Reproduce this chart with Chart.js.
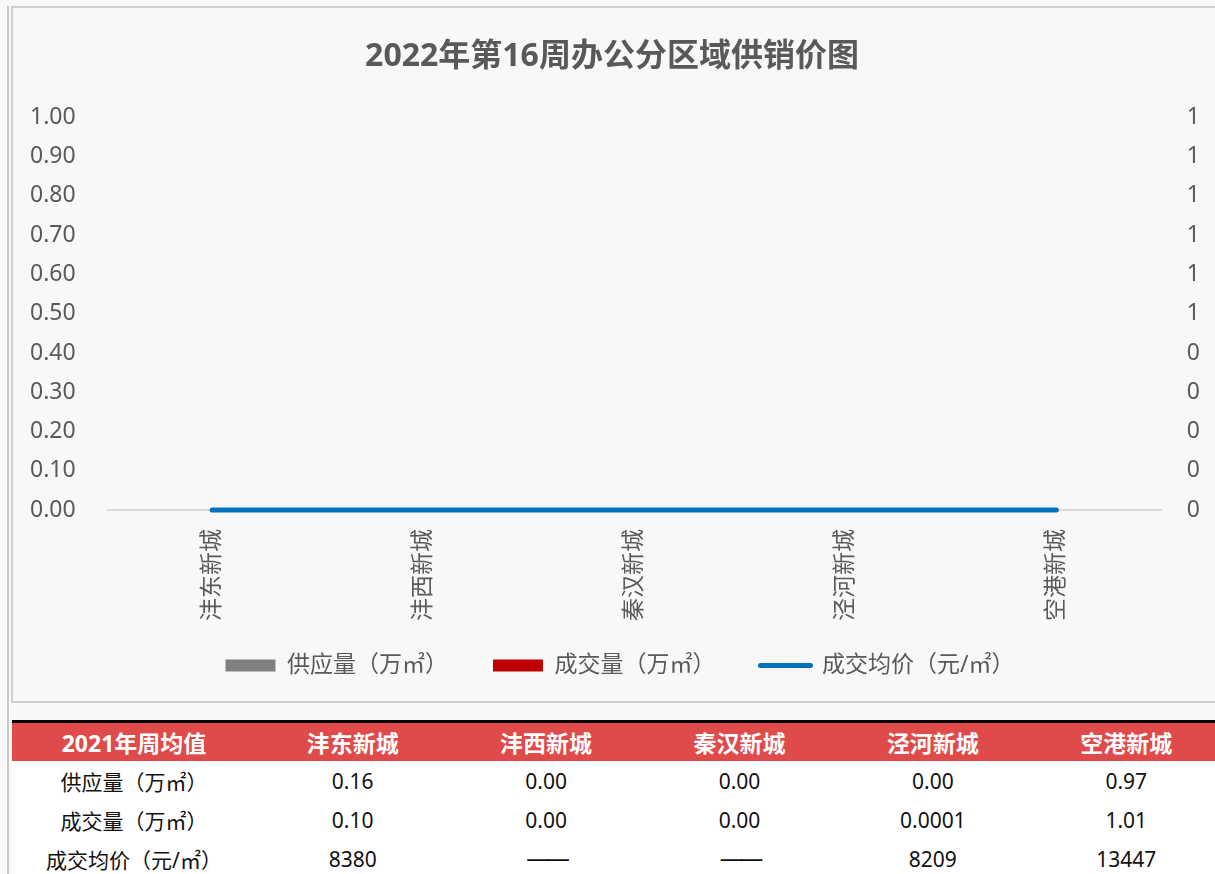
<!DOCTYPE html>
<html>
<head>
<meta charset="utf-8">
<script src="https://cdn.jsdelivr.net/npm/chart.js@4.4.1/dist/chart.umd.min.js"></script>
<style>
  html, body { margin: 0; padding: 0; }
  body {
    width: 1215px; height: 874px; overflow: hidden; position: relative;
    background: #f8f8f8;
    font-family: 'Noto Sans', 'Noto Sans CJK SC', sans-serif;
  }
  .side-line { position: absolute; left: 7px; top: 6px; width: 2px; height: 880px; background: #c8c8c8; }
  .chart-box {
    position: absolute; left: 11px; top: 6px; width: 1220px; height: 697px;
    border: 2px solid #cfcfcf; box-sizing: border-box; background: #f8f8f8;
  }
  .chart-box canvas { position: absolute; left: 0; top: 0; }
  table {
    position: absolute; left: 12px; top: 720px; width: 1211px;
    border-collapse: collapse; border-top: 3px solid #000; background: #fff;
    font-family: 'Noto Sans', 'Noto Sans CJK SC', sans-serif;
  }
  th { background: #df4a4a; color: #fff; font-size: 23px; font-weight: bold; height: 38px; padding: 0; }
  td { color: #111; font-size: 21px; height: 39px; padding: 0; text-align: center; }
  td.dash { font-family: 'DejaVu Sans', sans-serif; font-size: 24px; letter-spacing: -4px; }
  th:first-child, td:first-child { width: 244px; }
</style>
</head>
<body>
<div class="side-line"></div>
<div class="chart-box"><canvas id="chart" width="1203" height="694"></canvas></div>
<table id="avgTable"></table>
<script>
// chart data (all zero this week)
const districts = ['沣东新城', '沣西新城', '秦汉新城', '泾河新城', '空港新城'];
const supply = [0, 0, 0, 0, 0];      // 供应量（万㎡）
const deals = [0, 0, 0, 0, 0];       // 成交量（万㎡）
const avgPrice = [0, 0, 0, 0, 0];    // 成交均价（元/㎡）

// 2021 weekly averages shown in the table under the chart
const tableHead = '2021年周均值';
const rowNames = ['供应量（万㎡）', '成交量（万㎡）', '成交均价（元/㎡）'];
const avgSupply2021 = ['0.16', '0.00', '0.00', '0.00', '0.97'];
const avgDeals2021 = ['0.10', '0.00', '0.00', '0.0001', '1.01'];
const avgPrice2021 = ['8380', '——', '——', '8209', '13447'];

const textColor = '#595959';
const font = "'Noto Sans', 'Noto Sans CJK SC', sans-serif";
// extra room between legend entries (legend padding is shared with the vertical gap)
const legendGap = '\u3000\u2002';

function buildTable() {
  const table = document.getElementById('avgTable');
  let html = '<tr><th>' + tableHead + '</th>' + districts.map(d => '<th>' + d + '</th>').join('') + '</tr>';
  [avgSupply2021, avgDeals2021, avgPrice2021].forEach((row, i) => {
    html += '<tr><td>' + rowNames[i] + '</td>' +
      row.map(v => '<td' + (v === '——' ? ' class="dash"' : '') + '>' + v + '</td>').join('') + '</tr>';
  });
  table.innerHTML = html;
}

// nudge the legend a little to the right, like the original
const legendNudge = {
  id: 'legendNudge',
  afterLayout(chart) {
    if (!chart.legend) return;
    chart.legend.left += 8;
    chart.legend.right += 8;
  }
};

function drawChart() {
  const ctx = document.getElementById('chart');
  new Chart(ctx, {
    data: {
      labels: districts,
      datasets: [
        { type: 'bar', label: '供应量（万㎡）', data: supply, backgroundColor: '#808080', yAxisID: 'y', order: 2 },
        { type: 'bar', label: '成交量（万㎡）', data: deals, backgroundColor: '#c00000', yAxisID: 'y', order: 2 },
        {
          type: 'line', label: '成交均价（元/㎡）', data: avgPrice, borderColor: '#0070c0',
          backgroundColor: '#0070c0', borderWidth: 5, pointRadius: 0, borderCapStyle: 'round',
          clip: false, yAxisID: 'y1', order: 1
        }
      ]
    },
    plugins: [legendNudge],
    options: {
      responsive: false,
      animation: false,
      layout: { padding: { left: -14, right: -9, top: 0, bottom: 15 } },
      plugins: {
        title: {
          display: true,
          text: '2022年第16周办公分区域供销价图',
          color: textColor,
          font: { family: font, size: 32, weight: 'bold' },
          padding: { top: 30, bottom: 41 }
        },
        legend: {
          position: 'bottom',
          labels: {
            usePointStyle: true,
            pointStyleWidth: 50,
            boxHeight: 12,
            padding: 22,
            color: textColor,
            font: { family: font, size: 23 },
            generateLabels(chart) {
              const n = chart.data.datasets.length;
              return chart.data.datasets.map((ds, i) => ({
                text: ds.label + (i < n - 1 ? legendGap : ''),
                fillStyle: ds.backgroundColor,
                strokeStyle: ds.type === 'line' ? ds.borderColor : ds.backgroundColor,
                lineWidth: ds.type === 'line' ? 5 : 0,
                lineCap: 'round',
                pointStyle: ds.type === 'line' ? 'line' : 'rect',
                fontColor: textColor,
                hidden: false,
                datasetIndex: i
              }));
            }
          }
        },
        tooltip: { enabled: false }
      },
      scales: {
        x: {
          grid: { display: false },
          border: { display: false },
          ticks: {
            color: textColor, font: { family: font, size: 23 },
            minRotation: 90, maxRotation: 90, padding: 11
          }
        },
        y: {
          position: 'left',
          min: 0, max: 1,
          border: { display: false },
          grid: {
            drawTicks: false,
            color: c => (c.tick && c.tick.value === 0 ? '#d9d9d9' : 'rgba(0,0,0,0)'),
            lineWidth: 2
          },
          ticks: {
            stepSize: 0.1, padding: 31, color: textColor,
            font: { family: font, size: 23 },
            callback: v => Number(v).toFixed(2)
          }
        },
        y1: {
          position: 'right',
          min: 0, max: 1,
          border: { display: false },
          grid: { display: false, drawTicks: false },
          ticks: {
            stepSize: 0.1, padding: 25, color: textColor,
            font: { family: font, size: 23 },
            callback: v => String(Math.round(v))
          }
        }
      }
    }
  });
}

buildTable();
drawChart();
</script>
</body>
</html>
